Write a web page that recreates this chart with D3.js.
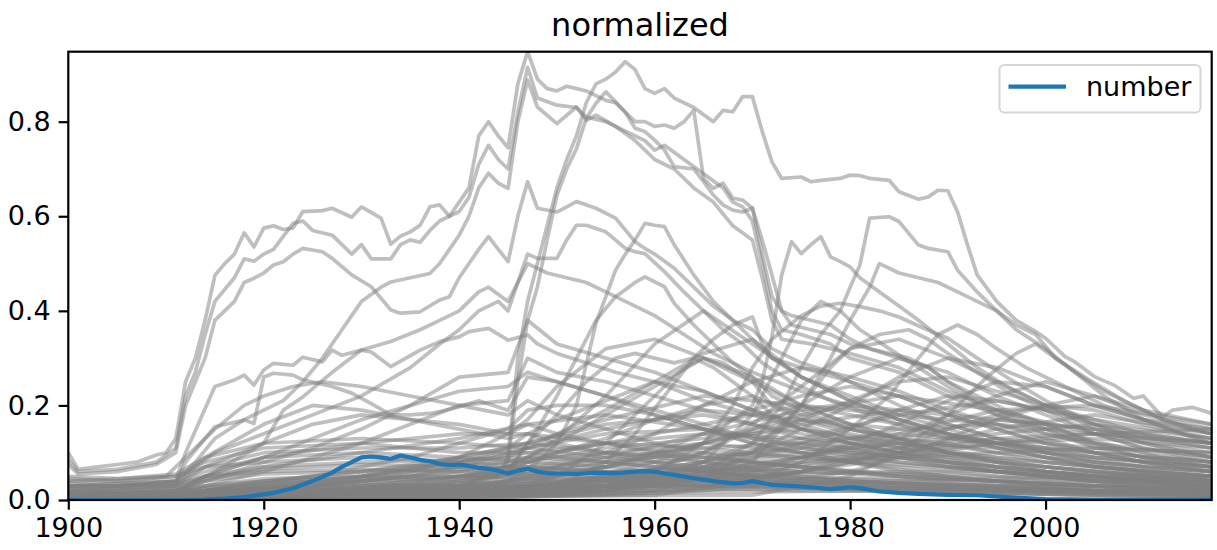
<!DOCTYPE html>
<html>
<head>
<meta charset="utf-8">
<script src="https://cdn.jsdelivr.net/npm/d3@7"></script>
<style>
body { margin: 0; background: #fff; }
svg { display: block; font-family: "DejaVu Sans", sans-serif; }
</style>
</head>
<body>
<svg id="chart" width="1217" height="550"></svg>
<script>
// ---- data: blue series ----
var numberSeries = [[1900,0],[1912,0],[1914,0.001],[1916,0.003],[1918,0.006],[1920,0.012],[1921,0.015],[1923,0.025],[1925,0.04],
  [1927,0.058],[1928,0.07],[1929,0.08],[1930,0.09],[1931,0.092],[1932,0.09],[1933,0.087],[1934,0.094],[1935,0.09],[1936,0.085],
  [1937,0.082],[1938,0.076],[1939,0.074],[1940,0.075],[1941,0.072],[1942,0.068],[1943,0.066],[1944,0.062],[1945,0.056],[1946,0.062],
  [1947,0.066],[1948,0.06],[1949,0.057],[1950,0.056],[1952,0.055],[1954,0.058],[1956,0.057],[1958,0.06],[1959,0.061],[1960,0.06],
  [1961,0.056],[1962,0.053],[1964,0.046],[1966,0.04],[1968,0.035],[1969,0.036],[1970,0.04],[1971,0.036],[1972,0.032],[1974,0.03],
  [1976,0.027],[1978,0.023],[1980,0.027],[1981,0.025],[1983,0.018],[1985,0.015],[1987,0.013],[1990,0.011],[1993,0.01],[1996,0.006],
  [1998,0.004],[2000,0.002],[2005,0.001],[2017,0.001]];

// ---- data: prominent gray series, [year, value] ----
var g01 = [[1900,0.1],[1901,0.065],[1903,0.07],[1905,0.075],[1907,0.08],[1909,0.095],[1910,0.1],[1911,0.13],[1912,0.25],[1913,0.3],
  [1914,0.38],[1915,0.475],[1916,0.5],[1917,0.52],[1918,0.565],[1919,0.535],[1920,0.575],[1921,0.58],[1922,0.572],[1923,0.575],
  [1924,0.61],[1926,0.612],[1927,0.617],[1929,0.598],[1930,0.62],[1932,0.596],[1933,0.541],[1934,0.558],[1935,0.567],[1936,0.581],
  [1937,0.62],[1938,0.624],[1939,0.6],[1940,0.63],[1941,0.66],[1942,0.77],[1943,0.8],[1944,0.77],[1945,0.745],[1946,0.88],[1947,0.948],
  [1948,0.89],[1949,0.87],[1950,0.865],[1951,0.875],[1952,0.87],[1953,0.865],[1954,0.855],[1955,0.845],[1956,0.84],[1957,0.82],
  [1958,0.786],[1959,0.779],[1960,0.761],[1961,0.74],[1962,0.705],[1964,0.7],[1965,0.673],[1966,0.645],[1967,0.624],[1968,0.613],
  [1969,0.609],[1970,0.617],[1971,0.52],[1972,0.43],[1973,0.4],[1974,0.39],[1976,0.38],[1978,0.37],[1980,0.34],[1982,0.32],
  [1984,0.31],[1986,0.3],[1988,0.28],[1990,0.25],[1993,0.22],[1996,0.19],[2000,0.16],[2004,0.13],[2008,0.11],[2012,0.09],[2017,0.08]];
var g02 = [[1900,0.085],[1901,0.06],[1905,0.065],[1909,0.08],[1911,0.11],[1912,0.22],[1913,0.27],[1914,0.35],[1915,0.42],[1917,0.47],
  [1918,0.51],[1919,0.505],[1920,0.52],[1921,0.53],[1923,0.585],[1924,0.59],[1925,0.57],[1927,0.56],[1929,0.52],[1930,0.54],
  [1931,0.51],[1933,0.51],[1934,0.54],[1935,0.55],[1936,0.545],[1937,0.57],[1938,0.59],[1939,0.6],[1940,0.61],[1941,0.64],
  [1942,0.71],[1943,0.75],[1944,0.72],[1945,0.7],[1946,0.82],[1947,0.915],[1948,0.85],[1950,0.835],[1952,0.83],[1953,0.81],
  [1955,0.8],[1957,0.78],[1959,0.76],[1960,0.74],[1961,0.75],[1963,0.72],[1965,0.69],[1967,0.66],[1968,0.63],[1969,0.62],
  [1970,0.59],[1971,0.5],[1972,0.4],[1973,0.36],[1975,0.35],[1978,0.33],[1980,0.3],[1985,0.27],[1990,0.22],[1995,0.18],
  [2000,0.15],[2005,0.11],[2010,0.09],[2017,0.07]];
var g03 = [[1900,0.075],[1901,0.055],[1905,0.06],[1909,0.075],[1911,0.1],[1912,0.2],[1913,0.25],[1914,0.3],[1915,0.38],[1917,0.42],
  [1918,0.46],[1919,0.469],[1920,0.48],[1921,0.497],[1922,0.504],[1923,0.52],[1924,0.532],[1926,0.525],[1927,0.511],[1929,0.476],
  [1931,0.451],[1933,0.402],[1934,0.395],[1936,0.398],[1938,0.423],[1939,0.43],[1940,0.47],[1941,0.5],[1942,0.53],[1943,0.557],
  [1944,0.53],[1945,0.504],[1946,0.6],[1947,0.673],[1948,0.617],[1950,0.609],[1952,0.631],[1954,0.617],[1956,0.596],[1958,0.546],
  [1959,0.532],[1960,0.52],[1962,0.49],[1964,0.45],[1966,0.41],[1968,0.38],[1970,0.36],[1972,0.32],[1975,0.29],[1978,0.27],
  [1980,0.26],[1985,0.23],[1990,0.19],[1995,0.16],[2000,0.13],[2005,0.1],[2010,0.08],[2017,0.06]];
var g04 = [[1900,0.005],[1920,0.01],[1935,0.02],[1940,0.03],[1944,0.05],[1945,0.09],[1946,0.3],[1947,0.42],[1948,0.5],[1949,0.58],
  [1950,0.66],[1951,0.72],[1952,0.77],[1953,0.84],[1954,0.88],[1955,0.89],[1956,0.905],[1957,0.927],[1958,0.91],[1959,0.87],
  [1960,0.86],[1961,0.87],[1962,0.85],[1964,0.83],[1966,0.8],[1967,0.824],[1968,0.821],[1969,0.853],[1970,0.853],[1971,0.78],
  [1972,0.715],[1973,0.68],[1975,0.683],[1976,0.673],[1977,0.676],[1979,0.68],[1980,0.687],[1981,0.686],[1982,0.68],[1984,0.676],
  [1985,0.652],[1987,0.636],[1988,0.641],[1989,0.655],[1990,0.654],[1991,0.609],[1992,0.54],[1993,0.476],[1995,0.42],[1997,0.38],
  [1999,0.356],[2000,0.342],[2002,0.303],[2003,0.292],[2005,0.261],[2007,0.243],[2009,0.215],[2010,0.22],[2011,0.197],[2012,0.176],
  [2013,0.19],[2015,0.196],[2017,0.183]];
var g05 = [[1900,0.005],[1925,0.01],[1940,0.03],[1944,0.06],[1945,0.08],[1946,0.25],[1947,0.38],[1948,0.45],[1949,0.55],[1950,0.645],
  [1951,0.7],[1952,0.743],[1953,0.807],[1954,0.839],[1955,0.863],[1956,0.842],[1957,0.82],[1958,0.8],[1959,0.8],[1960,0.79],
  [1961,0.793],[1962,0.786],[1963,0.8],[1964,0.824],[1965,0.68],[1966,0.659],[1967,0.67],[1968,0.638],[1969,0.634],[1970,0.617],
  [1971,0.55],[1972,0.476],[1973,0.4],[1974,0.37],[1976,0.36],[1978,0.35],[1980,0.33],[1982,0.32],[1985,0.3],[1988,0.28],
  [1990,0.25],[1993,0.21],[1996,0.18],[2000,0.15],[2005,0.12],[2010,0.09],[2017,0.07]];
var g06 = [[1900,0.03],[1905,0.03],[1911,0.04],[1912,0.06],[1913,0.08],[1915,0.13],[1918,0.17],[1920,0.19],[1922,0.21],[1924,0.25],
  [1926,0.3],[1928,0.36],[1930,0.42],[1932,0.45],[1933,0.461],[1935,0.47],[1937,0.479],[1938,0.5],[1939,0.53],[1940,0.56],
  [1941,0.6],[1942,0.66],[1943,0.691],[1944,0.67],[1945,0.659],[1946,0.8],[1947,0.888],[1948,0.831],[1950,0.796],[1952,0.831],
  [1953,0.803],[1954,0.814],[1956,0.79],[1958,0.76],[1960,0.72],[1962,0.7],[1964,0.66],[1966,0.63],[1968,0.58],[1970,0.55],
  [1971,0.47],[1972,0.38],[1973,0.34],[1976,0.33],[1980,0.31],[1985,0.28],[1990,0.23],[1995,0.19],[2000,0.16],[2005,0.12],
  [2010,0.1],[2017,0.08]];
var g07 = [[1900,0.03],[1911,0.04],[1912,0.1],[1915,0.24],[1917,0.254],[1918,0.264],[1919,0.243],[1920,0.275],[1921,0.289],
  [1923,0.285],[1924,0.302],[1926,0.292],[1927,0.317],[1928,0.306],[1930,0.317],[1931,0.313],[1933,0.282],[1936,0.317],[1938,0.335],
  [1940,0.345],[1941,0.356],[1943,0.363],[1945,0.338],[1947,0.349],[1948,0.33],[1950,0.31],[1953,0.29],[1956,0.27],[1960,0.25],
  [1965,0.21],[1970,0.18],[1975,0.15],[1980,0.13],[1990,0.1],[2000,0.08],[2017,0.05]];
var g08 = [[1900,0.025],[1911,0.035],[1912,0.08],[1915,0.155],[1918,0.169],[1919,0.162],[1920,0.26],[1921,0.268],[1923,0.264],
  [1924,0.254],[1927,0.24],[1929,0.226],[1931,0.204],[1933,0.18],[1935,0.18],[1937,0.183],[1938,0.187],[1940,0.197],[1942,0.21],
  [1945,0.19],[1947,0.26],[1950,0.25],[1955,0.22],[1960,0.19],[1965,0.16],[1970,0.13],[1980,0.1],[1990,0.08],[2000,0.06],[2017,0.04]];
var g09 = [[1900,0.01],[1911,0.015],[1915,0.06],[1920,0.12],[1922,0.19],[1924,0.218],[1927,0.27],[1930,0.317],[1933,0.335],
  [1936,0.36],[1938,0.38],[1940,0.4],[1942,0.44],[1943,0.45],[1945,0.42],[1947,0.5],[1949,0.48],[1951,0.47],[1953,0.46],[1955,0.44],
  [1958,0.41],[1960,0.39],[1963,0.35],[1966,0.31],[1970,0.27],[1975,0.23],[1980,0.2],[1985,0.17],[1990,0.14],[2000,0.1],[2010,0.07],
  [2017,0.05]];
var g10 = [[1900,0.005],[1930,0.01],[1940,0.02],[1945,0.04],[1948,0.08],[1950,0.12],[1952,0.2],[1954,0.374],[1956,0.486],[1957,0.52],
  [1958,0.55],[1959,0.585],[1960,0.581],[1961,0.578],[1962,0.54],[1964,0.476],[1966,0.42],[1968,0.38],[1970,0.34],[1972,0.3],
  [1975,0.26],[1980,0.21],[1985,0.17],[1990,0.14],[2000,0.09],[2010,0.06],[2017,0.04]];
var g11 = [[1900,0.005],[1940,0.01],[1950,0.03],[1960,0.08],[1965,0.12],[1968,0.17],[1970,0.2],[1971,0.25],[1972,0.345],[1973,0.476],
  [1974,0.546],[1975,0.521],[1976,0.54],[1977,0.557],[1978,0.514],[1979,0.504],[1980,0.493],[1981,0.47],[1983,0.44],[1985,0.41],
  [1987,0.38],[1990,0.33],[1993,0.28],[1996,0.24],[2000,0.2],[2005,0.15],[2010,0.12],[2017,0.09]];
var g12 = [[1900,0.005],[1950,0.01],[1960,0.03],[1965,0.06],[1970,0.12],[1973,0.2],[1975,0.28],[1977,0.35],[1979,0.4],[1980,0.45],
  [1981,0.497],[1982,0.596],[1984,0.599],[1985,0.589],[1987,0.539],[1988,0.532],[1990,0.525],[1991,0.486],[1993,0.44],[1995,0.4],
  [1997,0.36],[2000,0.32],[2003,0.27],[2006,0.22],[2010,0.17],[2014,0.14],[2017,0.12]];
var g13 = [[1900,0.005],[1955,0.02],[1965,0.05],[1970,0.1],[1975,0.2],[1978,0.3],[1980,0.38],[1982,0.45],[1983,0.5],[1985,0.48],
  [1987,0.47],[1989,0.46],[1991,0.44],[1993,0.42],[1995,0.4],[1997,0.37],[1999,0.35],[2001,0.3],[2004,0.26],[2008,0.21],[2012,0.17],
  [2017,0.14]];
var g14 = [[1900,0.005],[1940,0.01],[1950,0.03],[1955,0.08],[1958,0.14],[1961,0.22],[1964,0.3],[1966,0.34],[1968,0.37],[1970,0.387],
  [1971,0.33],[1972,0.3],[1975,0.28],[1978,0.27],[1980,0.25],[1985,0.22],[1990,0.18],[1995,0.15],[2000,0.12],[2010,0.08],[2017,0.06]];
var g15 = [[1900,0.01],[1935,0.02],[1945,0.06],[1948,0.15],[1950,0.22],[1952,0.3],[1954,0.38],[1956,0.43],[1958,0.46],[1959,0.472],
  [1961,0.451],[1962,0.416],[1964,0.37],[1966,0.33],[1968,0.29],[1970,0.26],[1972,0.22],[1975,0.19],[1980,0.15],[1990,0.1],
  [2000,0.07],[2017,0.04]];
var g16 = [[1900,0.01],[1940,0.03],[1945,0.06],[1947,0.12],[1950,0.18],[1953,0.25],[1956,0.3],[1958,0.31],[1960,0.3],[1962,0.29],
  [1964,0.3],[1966,0.28],[1968,0.25],[1970,0.22],[1972,0.18],[1975,0.15],[1980,0.12],[1990,0.08],[2000,0.05],[2017,0.03]];
var g17 = [[1900,0.005],[1960,0.01],[1970,0.04],[1975,0.08],[1980,0.15],[1984,0.22],[1987,0.3],[1989,0.35],[1991,0.37],[1993,0.35],
  [1995,0.32],[1998,0.28],[2000,0.26],[2003,0.23],[2006,0.2],[2010,0.17],[2014,0.14],[2017,0.12]];
var g18 = [[1900,0.005],[1970,0.01],[1980,0.05],[1985,0.1],[1990,0.18],[1994,0.26],[1997,0.31],[1999,0.33],[2001,0.3],[2003,0.27],
  [2006,0.23],[2009,0.2],[2012,0.17],[2015,0.15],[2017,0.14]];
var g19 = [[1900,0.005],[1960,0.02],[1970,0.08],[1975,0.2],[1978,0.28],[1980,0.32],[1983,0.35],[1986,0.36],[1988,0.34],[1990,0.31],
  [1993,0.27],[1996,0.23],[2000,0.19],[2005,0.14],[2010,0.11],[2017,0.08]];
var g20 = [[1900,0.005],[1955,0.02],[1965,0.08],[1970,0.18],[1973,0.3],[1975,0.38],[1977,0.42],[1979,0.4],[1981,0.36],[1984,0.32],
  [1987,0.28],[1990,0.24],[1995,0.18],[2000,0.14],[2010,0.09],[2017,0.07]];
var g21 = [[1900,0.01],[1945,0.02],[1950,0.05],[1955,0.12],[1960,0.22],[1963,0.28],[1965,0.3],[1967,0.29],[1970,0.25],[1972,0.2],
  [1975,0.17],[1980,0.14],[1990,0.1],[2000,0.07],[2017,0.04]];
var g22 = [[1900,0.04],[1910,0.05],[1912,0.09],[1915,0.15],[1918,0.2],[1920,0.22],[1923,0.24],[1926,0.25],[1930,0.24],[1935,0.22],
  [1940,0.2],[1945,0.18],[1947,0.21],[1950,0.18],[1955,0.15],[1960,0.12],[1970,0.08],[1980,0.06],[1990,0.04],[2017,0.02]];
var g23 = [[1900,0.02],[1911,0.03],[1913,0.07],[1915,0.1],[1920,0.14],[1925,0.18],[1930,0.22],[1935,0.28],[1938,0.33],[1940,0.36],
  [1942,0.4],[1944,0.42],[1945,0.4],[1946,0.46],[1947,0.52],[1948,0.511],[1950,0.511],[1951,0.55],[1952,0.581],[1953,0.581],
  [1955,0.567],[1957,0.532],[1958,0.525],[1959,0.521],[1961,0.483],[1963,0.44],[1965,0.4],[1967,0.36],[1969,0.33],[1971,0.29],
  [1974,0.25],[1978,0.21],[1982,0.18],[1988,0.14],[1995,0.11],[2005,0.07],[2017,0.05]];
var g24 = [[1900,0.005],[1950,0.02],[1960,0.06],[1965,0.12],[1968,0.2],[1970,0.28],[1972,0.34],[1975,0.39],[1977,0.41],[1979,0.416],
  [1981,0.409],[1983,0.4],[1985,0.387],[1988,0.359],[1990,0.342],[1993,0.3],[1996,0.26],[2000,0.21],[2005,0.16],[2010,0.12],[2017,0.09]];
var graySeries = [g01,g02,g03,g04,g05,g06,g07,g08,g09,g10,g11,g12,g13,g14,g15,g16,g17,g18,g19,g20,g21,g22,g23,g24];

// ---- data: mid-level gray series on a shared year grid ----
var midYears = [1900,1911,1914,1920,1925,1930,1935,1940,1945,1947,1950,1955,1960,1965,1970,1975,1980,1985,1990,1995,2000,2005,2010,2017];
var midValues = [
  [0.005,0.008,0.015,0.025,0.035,0.05,0.07,0.09,0.11,0.14,0.17,0.21,0.25,0.23,0.19,0.15,0.12,0.1,0.08,0.06,0.05,0.04,0.03,0.025],
  [0.003,0.004,0.008,0.012,0.018,0.025,0.035,0.05,0.07,0.09,0.12,0.18,0.24,0.3,0.26,0.2,0.16,0.13,0.1,0.08,0.06,0.05,0.04,0.03],
  [0.004,0.006,0.01,0.018,0.025,0.03,0.04,0.05,0.06,0.08,0.1,0.13,0.17,0.2,0.22,0.18,0.15,0.13,0.12,0.1,0.08,0.07,0.06,0.05],
  [0.002,0.003,0.005,0.008,0.01,0.014,0.02,0.028,0.04,0.05,0.07,0.1,0.14,0.2,0.25,0.28,0.25,0.2,0.16,0.13,0.1,0.08,0.07,0.06],
  [0.002,0.002,0.004,0.006,0.008,0.01,0.014,0.02,0.03,0.035,0.05,0.07,0.1,0.14,0.19,0.22,0.24,0.22,0.18,0.15,0.12,0.1,0.08,0.06],
  [0.001,0.002,0.003,0.004,0.006,0.008,0.01,0.014,0.02,0.025,0.03,0.045,0.07,0.1,0.15,0.2,0.26,0.3,0.27,0.22,0.18,0.14,0.11,0.09],
  [0.001,0.001,0.002,0.003,0.004,0.006,0.008,0.01,0.014,0.016,0.02,0.03,0.05,0.08,0.12,0.17,0.21,0.25,0.26,0.23,0.2,0.17,0.14,0.12],
  [0.001,0.001,0.002,0.003,0.004,0.005,0.007,0.01,0.012,0.015,0.02,0.03,0.04,0.06,0.09,0.12,0.15,0.19,0.22,0.21,0.19,0.16,0.14,0.12],
  [0.001,0.001,0.001,0.002,0.003,0.004,0.005,0.007,0.009,0.01,0.013,0.02,0.03,0.045,0.06,0.09,0.12,0.16,0.21,0.25,0.24,0.2,0.17,0.14],
  [0.001,0.001,0.001,0.002,0.003,0.004,0.005,0.006,0.008,0.009,0.011,0.015,0.02,0.03,0.045,0.06,0.08,0.11,0.15,0.18,0.2,0.19,0.16,0.13],
  [0.001,0.001,0.001,0.001,0.002,0.003,0.004,0.005,0.006,0.007,0.008,0.01,0.015,0.02,0.03,0.045,0.06,0.09,0.13,0.17,0.2,0.22,0.19,0.16],
  [0.006,0.01,0.02,0.035,0.05,0.07,0.09,0.12,0.15,0.19,0.2,0.2,0.18,0.15,0.12,0.1,0.08,0.065,0.05,0.04,0.035,0.03,0.025,0.02],
  [0.01,0.015,0.04,0.08,0.11,0.15,0.2,0.26,0.27,0.38,0.33,0.3,0.27,0.23,0.19,0.16,0.13,0.11,0.09,0.07,0.06,0.05,0.04,0.03],
  [0.008,0.012,0.03,0.06,0.09,0.12,0.16,0.2,0.21,0.3,0.27,0.25,0.22,0.19,0.16,0.13,0.11,0.09,0.07,0.06,0.05,0.04,0.03,0.025],
  [0.02,0.03,0.07,0.12,0.16,0.18,0.17,0.16,0.14,0.16,0.14,0.12,0.1,0.08,0.065,0.05,0.04,0.035,0.03,0.025,0.02,0.015,0.012,0.01],
  [0.03,0.04,0.09,0.16,0.2,0.19,0.17,0.15,0.13,0.14,0.12,0.1,0.08,0.06,0.05,0.04,0.03,0.025,0.02,0.015,0.012,0.01,0.008,0.006],
  [0.004,0.006,0.01,0.02,0.03,0.04,0.05,0.06,0.07,0.08,0.1,0.12,0.14,0.16,0.18,0.2,0.19,0.18,0.17,0.16,0.15,0.14,0.13,0.12],
  [0.003,0.005,0.01,0.02,0.03,0.04,0.05,0.07,0.09,0.11,0.14,0.19,0.25,0.31,0.34,0.26,0.22,0.18,0.15,0.12,0.1,0.08,0.07,0.06],
  [0.001,0.002,0.004,0.006,0.008,0.01,0.013,0.017,0.022,0.026,0.032,0.045,0.065,0.1,0.16,0.24,0.32,0.34,0.3,0.25,0.2,0.16,0.13,0.11],
  [0.001,0.001,0.002,0.003,0.004,0.005,0.007,0.01,0.013,0.015,0.02,0.03,0.045,0.07,0.1,0.15,0.2,0.26,0.3,0.28,0.24,0.2,0.17,0.15],
  [0.003,0.005,0.01,0.02,0.03,0.045,0.06,0.09,0.14,0.17,0.24,0.32,0.34,0.3,0.25,0.2,0.16,0.13,0.1,0.08,0.06,0.05,0.04,0.03],
  [0.002,0.003,0.006,0.01,0.014,0.018,0.024,0.03,0.04,0.045,0.055,0.07,0.09,0.12,0.15,0.18,0.2,0.19,0.16,0.13,0.11,0.09,0.08,0.07],
  [0.001,0.001,0.001,0.002,0.002,0.003,0.004,0.005,0.006,0.007,0.009,0.012,0.018,0.025,0.04,0.06,0.09,0.13,0.18,0.22,0.25,0.22,0.18,0.15],
  [0.01,0.02,0.05,0.09,0.13,0.17,0.2,0.23,0.24,0.27,0.25,0.22,0.18,0.15,0.12,0.1,0.08,0.06,0.05,0.04,0.03,0.025,0.02,0.015],
  [0.002,0.003,0.006,0.01,0.015,0.02,0.03,0.045,0.07,0.09,0.13,0.22,0.33,0.4,0.33,0.26,0.21,0.17,0.14,0.11,0.09,0.07,0.06,0.05]
];

// ---- data: background gray series on a shared year grid ----
var bgYears = [1900,1905,1911,1914,1920,1930,1940,1947,1955,1965,1975,1985,1995,2005,2017];
var bgValues = [
  [0.05,0.045,0.055,0.09,0.12,0.13,0.12,0.11,0.09,0.07,0.05,0.04,0.03,0.02,0.015],
  [0.04,0.04,0.05,0.08,0.11,0.12,0.1,0.1,0.08,0.06,0.045,0.035,0.025,0.02,0.015],
  [0.035,0.03,0.04,0.07,0.1,0.11,0.11,0.12,0.1,0.08,0.06,0.05,0.04,0.03,0.02],
  [0.03,0.03,0.035,0.06,0.09,0.1,0.09,0.08,0.07,0.05,0.04,0.03,0.02,0.015,0.01],
  [0.045,0.04,0.05,0.07,0.08,0.09,0.08,0.07,0.06,0.045,0.035,0.025,0.02,0.015,0.01],
  [0.025,0.025,0.03,0.05,0.07,0.08,0.085,0.09,0.08,0.06,0.045,0.035,0.03,0.02,0.015],
  [0.02,0.02,0.025,0.045,0.065,0.075,0.07,0.065,0.055,0.04,0.03,0.025,0.02,0.015,0.01],
  [0.03,0.028,0.032,0.05,0.06,0.065,0.06,0.055,0.045,0.035,0.025,0.02,0.015,0.01,0.008],
  [0.015,0.015,0.02,0.04,0.055,0.06,0.065,0.07,0.06,0.045,0.035,0.03,0.025,0.02,0.015],
  [0.01,0.012,0.015,0.03,0.045,0.05,0.05,0.045,0.04,0.03,0.025,0.02,0.015,0.01,0.008],
  [0.01,0.01,0.012,0.02,0.04,0.06,0.09,0.12,0.16,0.18,0.14,0.1,0.07,0.05,0.035],
  [0.005,0.006,0.008,0.015,0.03,0.05,0.08,0.11,0.14,0.15,0.12,0.09,0.06,0.04,0.03],
  [0.008,0.008,0.01,0.02,0.03,0.04,0.06,0.09,0.12,0.14,0.13,0.11,0.08,0.06,0.04],
  [0.005,0.005,0.006,0.01,0.02,0.03,0.05,0.08,0.11,0.13,0.15,0.12,0.09,0.07,0.05],
  [0.012,0.012,0.015,0.025,0.04,0.06,0.08,0.1,0.12,0.11,0.09,0.07,0.05,0.035,0.025],
  [0.004,0.004,0.005,0.01,0.015,0.025,0.04,0.07,0.1,0.12,0.1,0.08,0.06,0.05,0.04],
  [0.006,0.006,0.008,0.015,0.025,0.035,0.05,0.065,0.09,0.11,0.12,0.1,0.08,0.06,0.045],
  [0.003,0.003,0.004,0.008,0.012,0.02,0.035,0.06,0.08,0.1,0.09,0.075,0.06,0.045,0.035],
  [0.01,0.01,0.012,0.02,0.035,0.05,0.07,0.085,0.1,0.09,0.07,0.055,0.04,0.03,0.02],
  [0.002,0.002,0.003,0.005,0.01,0.015,0.025,0.045,0.07,0.09,0.11,0.09,0.07,0.05,0.04],
  [0.002,0.002,0.002,0.004,0.006,0.01,0.015,0.025,0.04,0.07,0.11,0.15,0.16,0.12,0.09],
  [0.001,0.001,0.002,0.003,0.005,0.008,0.012,0.02,0.035,0.06,0.09,0.13,0.17,0.15,0.11],
  [0.003,0.003,0.004,0.006,0.01,0.015,0.02,0.03,0.05,0.08,0.12,0.14,0.12,0.1,0.08],
  [0.002,0.002,0.003,0.005,0.008,0.012,0.018,0.03,0.045,0.065,0.09,0.12,0.14,0.16,0.13],
  [0.001,0.001,0.001,0.002,0.004,0.006,0.01,0.015,0.025,0.045,0.07,0.1,0.13,0.14,0.12],
  [0.004,0.004,0.005,0.008,0.012,0.018,0.025,0.035,0.05,0.07,0.1,0.12,0.11,0.09,0.07],
  [0.002,0.002,0.002,0.004,0.007,0.01,0.015,0.022,0.035,0.055,0.08,0.11,0.13,0.11,0.1],
  [0.001,0.001,0.002,0.003,0.004,0.006,0.009,0.015,0.025,0.04,0.06,0.09,0.12,0.14,0.15],
  [0.003,0.003,0.003,0.005,0.008,0.012,0.02,0.03,0.04,0.06,0.08,0.09,0.1,0.11,0.1],
  [0.002,0.002,0.003,0.004,0.006,0.009,0.014,0.02,0.03,0.05,0.075,0.1,0.12,0.13,0.11],
  [0.02,0.02,0.022,0.03,0.04,0.045,0.05,0.055,0.06,0.065,0.06,0.055,0.05,0.045,0.04],
  [0.015,0.015,0.018,0.025,0.035,0.04,0.045,0.05,0.05,0.05,0.045,0.045,0.04,0.04,0.035],
  [0.01,0.01,0.012,0.018,0.025,0.03,0.035,0.04,0.045,0.05,0.055,0.06,0.06,0.055,0.05],
  [0.008,0.008,0.01,0.015,0.02,0.025,0.03,0.035,0.04,0.04,0.04,0.035,0.03,0.03,0.025],
  [0.005,0.005,0.006,0.01,0.015,0.02,0.025,0.03,0.03,0.03,0.035,0.04,0.045,0.05,0.045],
  [0.004,0.004,0.005,0.008,0.012,0.015,0.02,0.025,0.028,0.03,0.03,0.028,0.025,0.02,0.018],
  [0.003,0.003,0.004,0.006,0.009,0.012,0.015,0.018,0.02,0.022,0.025,0.025,0.022,0.02,0.018],
  [0.002,0.002,0.003,0.004,0.006,0.008,0.01,0.012,0.014,0.016,0.018,0.02,0.02,0.018,0.015],
  [0.012,0.012,0.014,0.02,0.028,0.032,0.03,0.03,0.028,0.025,0.02,0.018,0.015,0.012,0.01],
  [0.006,0.006,0.007,0.012,0.018,0.022,0.025,0.028,0.03,0.032,0.035,0.035,0.03,0.028,0.025],
  [0.01,0.01,0.012,0.02,0.03,0.05,0.08,0.12,0.17,0.22,0.2,0.16,0.12,0.09,0.07],
  [0.005,0.005,0.006,0.01,0.015,0.025,0.04,0.06,0.09,0.14,0.19,0.22,0.19,0.14,0.1],
  [0.002,0.002,0.003,0.005,0.008,0.012,0.02,0.03,0.05,0.08,0.13,0.18,0.21,0.17,0.13],
  [0.015,0.015,0.02,0.04,0.07,0.1,0.13,0.16,0.18,0.15,0.11,0.08,0.06,0.04,0.03],
  [0.004,0.004,0.005,0.008,0.012,0.02,0.03,0.05,0.08,0.12,0.16,0.19,0.17,0.15,0.12],
  [0.001,0.001,0.002,0.003,0.005,0.008,0.012,0.02,0.03,0.05,0.09,0.14,0.19,0.2,0.16],
  [0.008,0.008,0.01,0.015,0.025,0.04,0.07,0.11,0.15,0.19,0.17,0.13,0.1,0.08,0.06],
  [0.003,0.003,0.004,0.007,0.01,0.015,0.025,0.04,0.07,0.12,0.17,0.15,0.12,0.1,0.08],
  [0.02,0.02,0.025,0.05,0.09,0.12,0.14,0.14,0.12,0.09,0.07,0.05,0.04,0.03,0.02],
  [0.001,0.001,0.001,0.002,0.003,0.005,0.008,0.012,0.02,0.035,0.06,0.1,0.15,0.18,0.14]
];

var yTicks = [0, 0.2, 0.4, 0.6, 0.8];
var xTicks = [1900, 1920, 1940, 1960, 1980, 2000];

// ---- chart ----
var svg = d3.select('#chart');
var plotLeft = 68.3, plotRight = 1211.7, plotTop = 51.7, plotBottom = 500;

var x = d3.scaleLinear().domain([1900, 2017]).range([plotLeft, plotRight]);
var y = d3.scaleLinear().domain([0, 0.948]).range([plotBottom, plotTop]);

svg.append('defs').append('clipPath').attr('id', 'plotclip')
  .append('rect').attr('x', plotLeft).attr('y', plotTop)
  .attr('width', plotRight - plotLeft).attr('height', plotBottom - plotTop);

var line = d3.line().x(function(d) { return x(d[0]); }).y(function(d) { return y(d[1]); });

// pair grid values with their years
function onGrid(years, rows) {
  return rows.map(function(vals) {
    return vals.map(function(v, i) { return [years[i], v]; });
  });
}
var allGray = onGrid(bgYears, bgValues).concat(onGrid(midYears, midValues)).concat(graySeries);

var plot = svg.append('g').attr('clip-path', 'url(#plotclip)');

plot.selectAll('path.gray')
  .data(allGray)
  .enter().append('path')
  .attr('class', 'gray')
  .attr('d', line)
  .attr('fill', 'none')
  .attr('stroke', '#808080')
  .attr('stroke-opacity', 0.5)
  .attr('stroke-width', 3.7)
  .attr('stroke-linejoin', 'round');

plot.append('path')
  .datum(numberSeries)
  .attr('d', line)
  .attr('fill', 'none')
  .attr('stroke', '#1f77b4')
  .attr('stroke-width', 4.2)
  .attr('stroke-linejoin', 'round');

// axes
var xAxis = svg.append('g').attr('transform', 'translate(0,' + plotBottom + ')')
  .call(d3.axisBottom(x).tickValues(xTicks).tickFormat(d3.format('d')).tickSize(9.7).tickPadding(8));
var yAxis = svg.append('g').attr('transform', 'translate(' + plotLeft + ',0)')
  .call(d3.axisLeft(y).tickValues(yTicks).tickFormat(d3.format('.1f')).tickSize(9.7).tickPadding(8));

[xAxis, yAxis].forEach(function(a) {
  a.select('.domain').remove();
  a.selectAll('.tick line').attr('stroke', '#000').attr('stroke-width', 2.2);
  a.selectAll('.tick text').attr('fill', '#000').style('font-size', '27px').style('font-family', '"DejaVu Sans", sans-serif');
});

// frame
svg.append('rect')
  .attr('x', plotLeft).attr('y', plotTop).attr('width', plotRight - plotLeft).attr('height', plotBottom - plotTop)
  .attr('fill', 'none').attr('stroke', '#000').attr('stroke-width', 2.2);

// title
svg.append('text')
  .attr('x', (plotLeft + plotRight) / 2).attr('y', 36)
  .attr('text-anchor', 'middle')
  .style('font-size', '32px')
  .text('normalized');

// legend
var leg = svg.append('g');
leg.append('rect')
  .attr('x', 999.5).attr('y', 65).attr('width', 201).attr('height', 47.5).attr('rx', 5)
  .attr('fill', '#fff').attr('fill-opacity', 0.8)
  .attr('stroke', '#d6d6d6').attr('stroke-width', 2);
leg.append('line')
  .attr('x1', 1008.5).attr('x2', 1066).attr('y1', 86.7).attr('y2', 86.7)
  .attr('stroke', '#1f77b4').attr('stroke-width', 4.2);
leg.append('text')
  .attr('x', 1086).attr('y', 96)
  .style('font-size', '27px')
  .text('number');
</script>
</body>
</html>
